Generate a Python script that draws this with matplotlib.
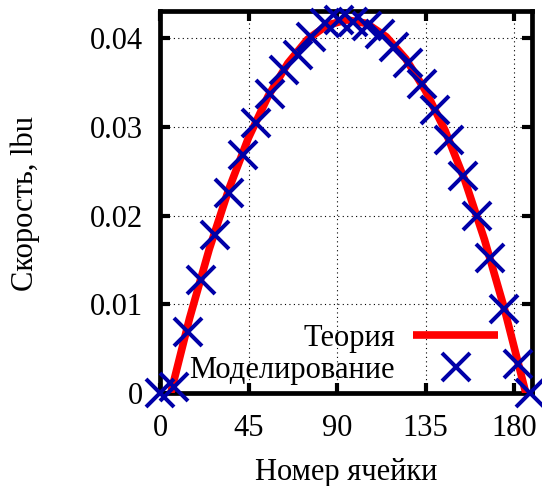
import matplotlib
matplotlib.use("Agg")
import matplotlib.pyplot as plt

# theory curve
theory_x = [5.5, 15, 25, 35, 45, 55, 65, 75, 85, 95, 105, 115, 125, 135, 145, 155, 165, 175, 186]
theory_u = [0.0, 0.0084, 0.0162, 0.0230, 0.0288, 0.0335, 0.0372, 0.0399, 0.0415, 0.0421,
            0.0417, 0.0402, 0.0377, 0.0341, 0.0296, 0.0240, 0.0173, 0.0096, 0.0]

# simulation points
sim_x = [0, 7, 14, 21, 28, 35, 42, 49, 56, 63, 70, 77, 84, 91, 98, 105, 112, 119, 126,
         133, 140, 147, 154, 161, 168, 175, 182, 188]
sim_u = [0.0, 0.0007, 0.0069, 0.0127, 0.0178, 0.0226, 0.0268, 0.0305, 0.0337, 0.0364,
         0.0381, 0.0402, 0.0417, 0.0421, 0.0419, 0.0414, 0.0405, 0.0390, 0.0372,
         0.0349, 0.0319, 0.0285, 0.0245, 0.0200, 0.0152, 0.0095, 0.0033, 0.0]

xticks = [0, 45, 90, 135, 180]
yticks = [0, 0.01, 0.02, 0.03, 0.04]
ytick_labels = ["0", "0.01", "0.02", "0.03", "0.04"]

plt.rcParams["font.family"] = ["Liberation Serif", "DejaVu Serif"]
plt.rcParams["font.size"] = 22

fig = plt.figure(figsize=(5.42, 4.86), dpi=100)
ax = fig.add_axes([160 / 542, 93 / 486, 371.7 / 542, 382 / 486])

ax.plot(theory_x, theory_u, color="#ff0000", lw=5.5, solid_capstyle="butt",
        label="Теория", zorder=3)
ax.plot(sim_x, sim_u, ls="none", marker="x", ms=20, mew=2.9, color="#0000a8",
        label="Моделирование", clip_on=False, zorder=5)

ax.set_xlim(0, 189)
ax.set_ylim(0, 0.0431)
ax.set_xticks(xticks)
ax.set_yticks(yticks)
ax.set_yticklabels(ytick_labels)

ax.grid(True, color="black", lw=0.8, ls=(0, (1, 3)))
for s in ax.spines.values():
    s.set_linewidth(3.4)
ax.tick_params(direction="in", length=7, width=3, top=True, right=True,
               labelsize=22)
ax.tick_params(axis="x", pad=15)
ax.tick_params(axis="y", pad=12)

ax.set_xlabel("Номер ячейки", fontsize=22)
ax.set_ylabel("Скорость, lbu", fontsize=22)
ax.xaxis.set_label_coords(0.5, -0.17)
ax.yaxis.set_label_coords(-0.322, 0.495)

leg = ax.legend(loc="lower right", markerfirst=False, frameon=False,
                handlelength=2.78, handletextpad=0.59, labelspacing=0.1,
                borderpad=0, borderaxespad=0, fontsize=22,
                bbox_to_anchor=(498 / 542, (486 - 385) / 486),
                bbox_transform=fig.transFigure)

fig.savefig("out.png", dpi=100)
